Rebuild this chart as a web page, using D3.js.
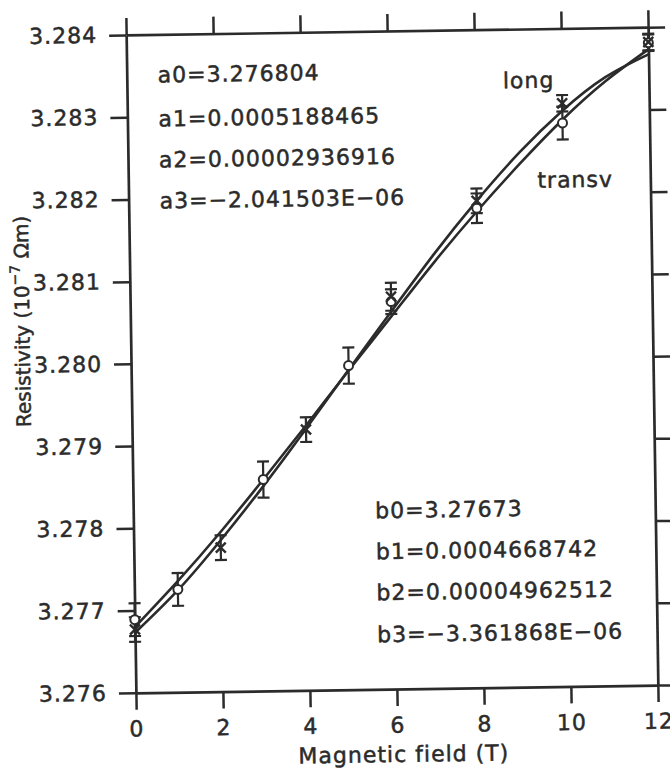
<!DOCTYPE html>
<html>
<head>
<meta charset="utf-8">
<script src="https://cdn.jsdelivr.net/npm/d3@7"></script>
<style>
  body { margin: 0; background: #fff; }
  text { font-family: "DejaVu Sans", sans-serif; fill: #2b2b2b; letter-spacing: 1px; stroke: #2b2b2b; stroke-width: 0.5px; }
</style>
</head>
<body>
<div id="chart"></div>
<script>
// values
var fitField = [0, 1, 2, 3, 4, 5, 6, 7, 8, 9, 10, 11, 12];
var transvFit = [3.27680, 3.27735, 3.27794, 3.27857, 3.27922, 3.27988, 3.28053, 3.28118, 3.28179, 3.28236, 3.28289, 3.28335, 3.28373];
var longFit = [3.27673, 3.27724, 3.27784, 3.27849, 3.27918, 3.27989, 3.28059, 3.28128, 3.28192, 3.28250, 3.28300, 3.28340, 3.28367];

var transvField = [0, 1, 3, 5, 6, 8, 10, 12];
var transvVal = [3.27689, 3.27725, 3.27857, 3.27994, 3.28071, 3.28183, 3.28285, 3.28381];
var transvErr = [0.0002, 0.0002, 0.00022, 0.00022, 0.00015, 0.00018, 0.0002, 0.0001];

var longField = [0, 2, 4, 6, 8, 10, 12];
var longVal = [3.27677, 3.27775, 3.27917, 3.28077, 3.28192, 3.28309, 3.28382];
var longErr = [0.00015, 0.00015, 0.00015, 0.00017, 0.00015, 0.0001, 0.0001];

var xTicks = [0, 2, 4, 6, 8, 10, 12];
var yTicks = [3.276, 3.277, 3.278, 3.279, 3.280, 3.281, 3.282, 3.283, 3.284];

var aLines = ["a0=3.276804", "a1=0.0005188465", "a2=0.00002936916", "a3=\u22122.041503E\u221206"];
var bLines = ["b0=3.27673", "b1=0.0004668742", "b2=0.00004962512", "b3=\u22123.361868E\u221206"];

var W = 670, H = 769,
    pLeft = 131, pRight = 653, pTop = 31, pBottom = 689,
    tick = 17,
    ink = "#2b2b2b";

var x = d3.scaleLinear().domain([0, 12]).range([pLeft, pRight]);
var y = d3.scaleLinear().domain([3.276, 3.284]).range([pBottom, pTop]);

var svg = d3.select("#chart").append("svg")
    .attr("width", W)
    .attr("height", H);

// the scan is slightly tilted
var g = svg.append("g")
    .attr("transform", "rotate(-0.85, 392, 360)");

function styleAxis(sel) {
  sel.selectAll("path, line").attr("stroke", ink).attr("stroke-width", 2.5);
  sel.selectAll("text").attr("fill", ink).style("font-size", "22px")
    .style("font-family", "DejaVu Sans, sans-serif");
}

g.append("g")
    .attr("transform", "translate(" + pLeft + ",0)")
    .call(d3.axisLeft(y).tickValues(yTicks).tickFormat(d3.format(".3f"))
      .tickSizeInner(tick).tickSizeOuter(0).tickPadding(12))
    .call(styleAxis);

g.append("g")
    .attr("transform", "translate(" + pRight + ",0)")
    .call(d3.axisRight(y).tickValues(yTicks).tickFormat("")
      .tickSizeInner(tick).tickSizeOuter(0))
    .call(styleAxis);

g.append("g")
    .attr("transform", "translate(0," + pBottom + ")")
    .call(d3.axisBottom(x).tickValues(xTicks).tickFormat(d3.format("d"))
      .tickSizeInner(tick).tickSizeOuter(0).tickPadding(11))
    .call(styleAxis);

g.append("g")
    .attr("transform", "translate(0," + pTop + ")")
    .call(d3.axisTop(x).tickValues(xTicks).tickFormat("")
      .tickSizeInner(tick).tickSizeOuter(0))
    .call(styleAxis);

g.selectAll(".domain").attr("stroke-width", 2.7);

// fitted curves
var line = d3.line()
    .x(function (d) { return x(d[0]); })
    .y(function (d) { return y(d[1]); })
    .curve(d3.curveNatural);

[transvFit, longFit].forEach(function (vals) {
  g.append("path")
    .datum(fitField.map(function (f, i) { return [f, vals[i]]; }))
    .attr("d", line)
    .attr("fill", "none")
    .attr("stroke", ink)
    .attr("stroke-width", 2.6);
});

// error bars
function errorBars(field, vals, errs) {
  var pts = field.map(function (f, i) { return {b: f, v: vals[i], e: errs[i]}; });
  var eb = g.append("g").attr("stroke", ink).attr("stroke-width", 2.2);
  eb.selectAll("line.bar").data(pts).enter().append("line")
    .attr("x1", function (d) { return x(d.b); })
    .attr("x2", function (d) { return x(d.b); })
    .attr("y1", function (d) { return y(d.v - d.e); })
    .attr("y2", function (d) { return y(d.v + d.e); });
  eb.selectAll("line.cap-hi").data(pts).enter().append("line")
    .attr("x1", function (d) { return x(d.b) - 6; })
    .attr("x2", function (d) { return x(d.b) + 6; })
    .attr("y1", function (d) { return y(d.v + d.e); })
    .attr("y2", function (d) { return y(d.v + d.e); });
  eb.selectAll("line.cap-lo").data(pts).enter().append("line")
    .attr("x1", function (d) { return x(d.b) - 6; })
    .attr("x2", function (d) { return x(d.b) + 6; })
    .attr("y1", function (d) { return y(d.v - d.e); })
    .attr("y2", function (d) { return y(d.v - d.e); });
  return pts;
}

var tPts = errorBars(transvField, transvVal, transvErr);
var lPts = errorBars(longField, longVal, longErr);

g.selectAll("circle.transv")
  .data(tPts)
  .enter().append("circle")
    .attr("class", "transv")
    .attr("cx", function (d) { return x(d.b); })
    .attr("cy", function (d) { return y(d.v); })
    .attr("r", 4.5)
    .attr("fill", "#fff")
    .attr("stroke", ink)
    .attr("stroke-width", 2);

g.selectAll("path.long")
  .data(lPts)
  .enter().append("path")
    .attr("class", "long")
    .attr("d", function (d) {
      var cx = x(d.b), cy = y(d.v), s = 5;
      return "M" + (cx - s) + "," + (cy - s) + "L" + (cx + s) + "," + (cy + s) +
        "M" + (cx - s) + "," + (cy + s) + "L" + (cx + s) + "," + (cy - s);
    })
    .attr("stroke", ink)
    .attr("stroke-width", 2.4);

// coefficient text
g.selectAll("text.acoef")
  .data(aLines)
  .enter().append("text")
    .attr("class", "acoef")
    .attr("x", 162)
    .attr("y", function (d, i) { return [79, 123, 164, 205][i]; })
    .style("font-size", "22px")
    .text(function (d) { return d; });

g.selectAll("text.bcoef")
  .data(bLines)
  .enter().append("text")
    .attr("class", "bcoef")
    .attr("x", 373)
    .attr("y", function (d, i) { return [518, 559, 600, 642][i]; })
    .style("font-size", "22px")
    .text(function (d) { return d; });

g.append("text").attr("x", 507).attr("y", 90).style("font-size", "22px").text("long");
g.append("text").attr("x", 540).attr("y", 190).style("font-size", "22px").text("transv");

// axis titles
g.append("text")
    .attr("x", 398)
    .attr("y", 762)
    .attr("text-anchor", "middle")
    .style("font-size", "22px")
    .text("Magnetic field (T)");

var yt = g.append("text")
    .attr("transform", "translate(30,316) rotate(-90)")
    .attr("text-anchor", "middle")
    .style("font-size", "20px")
    .style("letter-spacing", "0px");
yt.append("tspan").text("Resistivity (10");
yt.append("tspan").attr("dy", -9).style("font-size", "14px").text("\u22127");
yt.append("tspan").attr("dy", 9).text(" \u03A9m)");
</script>
</body>
</html>
